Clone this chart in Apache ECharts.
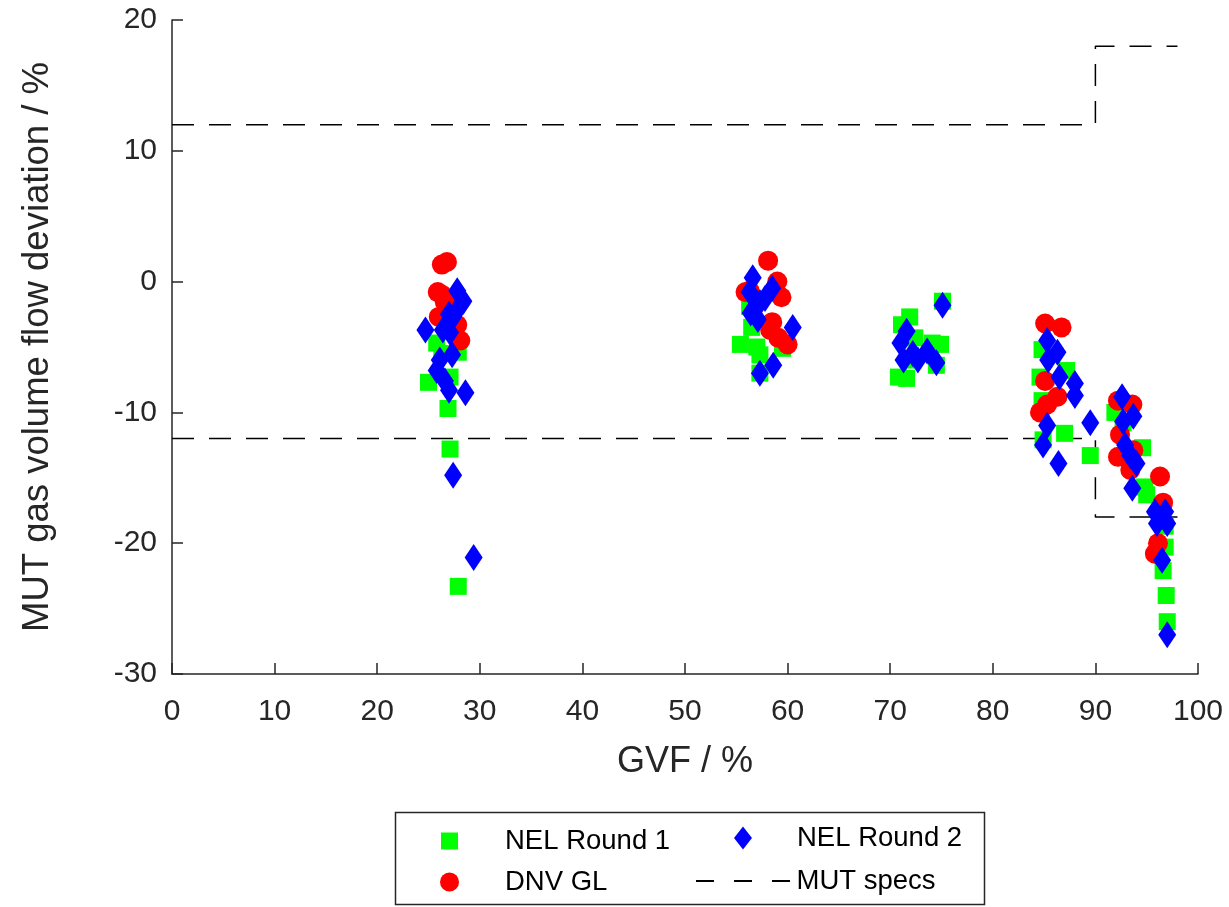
<!DOCTYPE html>
<html>
<head>
<meta charset="utf-8">
<script src="https://cdn.jsdelivr.net/npm/echarts@6/dist/echarts.min.js"></script>
<style>
  html, body { margin: 0; padding: 0; background: #fff; }
  #chart { width: 1229px; height: 907px; }
</style>
</head>
<body>
<div id="chart"></div>
<script>
// NEL Round 1 (green squares)
var nel1Gvf = [25.8, 27.9, 25.0, 26.9, 27.1, 27.9, 27.1, 26.3,
               55.4, 56.3, 56.5, 57.0, 57.3, 57.3, 59.5,
               70.8, 71.1, 71.6, 71.9, 72.2, 72.4, 74.1, 74.5, 74.9, 75.1,
               84.6, 84.8, 84.8, 84.9, 87.0, 87.2, 89.5,
               91.9, 92.7, 94.6, 94.8, 95.0, 96.8, 96.8, 96.6, 96.9, 97.0];
var nel1Dev = [-4.7, -5.4, -7.7, -9.7, -12.8, -23.3, -7.3, -5.5,
               -4.8, -1.9, -3.5, -5.0, -5.6, -7.0, -5.1,
               -7.3, -3.3, -7.4, -2.7, -6.0, -4.3, -4.7, -6.4, -4.8, -1.5,
               -7.3, -5.2, -9.1, -12.1, -11.6, -6.8, -13.3,
               -10.0, -10.8, -12.7, -15.7, -16.3, -18.7, -20.3, -22.1, -24.0, -26.0];

// DNV GL (red circles)
var dnvGvf = [26.3, 26.8, 25.9, 26.3, 26.6, 26.0, 27.8, 28.1, 27.2,
              58.1, 55.9, 59.0, 59.4, 58.5, 58.3, 59.1, 60.0, 56.3,
              85.1, 86.7, 85.1, 86.3, 85.3, 84.6,
              92.2, 93.6, 92.4, 92.2, 93.4, 96.3, 96.6, 96.1, 95.8, 93.7];
var dnvDev = [1.3, 1.5, -0.8, -1.0, -1.6, -2.7, -3.3, -4.5, -2.0,
              1.6, -0.8, 0.0, -1.2, -3.1, -3.7, -4.3, -4.8, -0.7,
              -3.2, -3.5, -7.6, -8.8, -9.4, -10.0,
              -9.1, -9.4, -11.7, -13.4, -14.4, -14.9, -16.9, -20.0, -20.8, -12.9];

// NEL Round 2 (blue diamonds)
var nel2Gvf = [24.7, 28.2, 27.8, 28.4, 27.4, 26.4, 27.1, 25.8, 26.6, 27.0, 28.6, 27.4, 29.4, 27.3, 26.1, 27.0,
               56.6, 58.5, 57.3, 56.3, 57.1, 60.5, 58.6, 57.3, 56.4, 57.8,
               75.1, 71.6, 71.0, 71.3, 72.7, 73.6, 74.5, 72.2,
               85.3, 86.3, 85.4, 86.5, 88.0, 88.0, 85.3, 84.9, 89.5, 86.4,
               92.6, 93.7, 92.7, 92.9, 94.0, 93.6, 95.8, 96.0, 97.0, 96.5, 97.0, 96.8, 93.4];
var nel2Dev = [-3.7, -1.7, -0.7, -1.5, -2.7, -3.7, -3.9, -6.8, -7.6, -8.3, -8.5, -14.8, -21.1, -5.6, -6.0, -2.5,
               0.3, -0.5, -1.6, -0.8, -2.9, -3.5, -6.4, -7.0, -2.4, -1.3,
               -1.8, -3.8, -4.7, -6.0, -6.0, -5.3, -6.2, -5.5,
               -4.5, -5.4, -6.0, -7.3, -7.8, -8.7, -11.0, -12.5, -10.8, -13.9,
               -8.8, -10.3, -10.7, -12.5, -13.9, -15.8, -17.6, -18.5, -18.5, -21.3, -27.0, -17.6, -13.3];

// MUT specs limits
var specGvf = [0, 90, 90, 98];
var specUpper = [12, 12, 18, 18];
var specLower = [-12, -12, -18, -18];

function pairs(xs, ys) {
    return xs.map(function (x, i) { return [x, ys[i]]; });
}

var axisColor = '#262626';
var font = 'Liberation Sans, Arial, Helvetica, sans-serif';
var specLine = { color: '#000', width: 1.5, type: [22, 15] };
// dashed legend icon: three short dashes
var dashIcon = 'path://M0,0H18V2H0Z M38,0H56V2H38Z M76,0H94V2H76Z';

var myChart = echarts.init(document.getElementById('chart'));
var option = {
    backgroundColor: '#fff',
    animation: false,
    textStyle: { fontFamily: font },
    grid: { left: 172, right: 31, top: 20, bottom: 233 },
    xAxis: {
        type: 'value', min: 0, max: 100, interval: 10,
        name: 'GVF / %', nameLocation: 'middle', nameGap: 70,
        nameTextStyle: { fontSize: 36, color: axisColor, fontFamily: font },
        axisLine: { onZero: false, lineStyle: { color: axisColor, width: 1.5 } },
        axisTick: { inside: true, length: 11, lineStyle: { color: axisColor, width: 1.5 } },
        axisLabel: { fontSize: 30, color: axisColor, margin: 23, fontFamily: font },
        splitLine: { show: false }
    },
    yAxis: {
        type: 'value', min: -30, max: 20, interval: 10,
        name: 'MUT gas volume flow deviation / %', nameLocation: 'middle', nameGap: 116,
        nameTextStyle: { fontSize: 36.5, color: axisColor, fontFamily: font },
        axisLine: { onZero: false, lineStyle: { color: axisColor, width: 1.5 } },
        axisTick: { inside: true, length: 11, lineStyle: { color: axisColor, width: 1.5 } },
        axisLabel: { fontSize: 30, color: axisColor, margin: 15, fontFamily: font },
        splitLine: { show: false }
    },
    legend: [
        { data: [{ name: 'NEL Round 1', icon: 'rect' }], left: 441, top: 827, padding: 0,
          itemWidth: 17, itemHeight: 17,
          textStyle: { fontSize: 27.5, color: '#000', padding: [0, 0, 0, 42], fontFamily: font } },
        { data: [{ name: 'DNV GL', icon: 'circle' }], left: 440, top: 868, padding: 0,
          itemWidth: 19, itemHeight: 19,
          textStyle: { fontSize: 27.5, color: '#000', padding: [0, 0, 0, 41], fontFamily: font } },
        { data: [{ name: 'NEL Round 2', icon: 'diamond' }], left: 734, top: 824, padding: 0,
          itemWidth: 18, itemHeight: 23,
          textStyle: { fontSize: 27.5, color: '#000', padding: [0, 0, 0, 40], fontFamily: font } },
        { data: [{ name: 'MUT specs', icon: dashIcon }], left: 696, top: 867, padding: 0,
          itemWidth: 95, itemHeight: 2,
          textStyle: { fontSize: 27.5, color: '#000', padding: [0, 0, 0, 1], fontFamily: font } }
    ],
    graphic: [{
        type: 'rect', left: 393, top: 810, silent: true,
        shape: { width: 589, height: 92 },
        style: { fill: 'none', stroke: axisColor, lineWidth: 1.5 }
    }],
    series: [
        {
            name: 'NEL Round 1', type: 'scatter', symbol: 'rect', symbolSize: 17,
            itemStyle: { color: '#00ff00', opacity: 1 },
            data: pairs(nel1Gvf, nel1Dev), z: 2
        },
        {
            name: 'DNV GL', type: 'scatter', symbol: 'circle', symbolSize: 20,
            itemStyle: { color: '#ff0000', opacity: 1 },
            data: pairs(dnvGvf, dnvDev), z: 3
        },
        {
            name: 'NEL Round 2', type: 'scatter', symbol: 'diamond', symbolSize: [18, 27],
            itemStyle: { color: '#0000ff', opacity: 1 },
            data: pairs(nel2Gvf, nel2Dev), z: 4
        },
        {
            name: 'MUT specs', type: 'line', symbol: 'none', showSymbol: false,
            lineStyle: specLine, itemStyle: { color: '#000' },
            data: pairs(specGvf, specUpper), z: 1
        },
        {
            name: 'MUT specs', type: 'line', symbol: 'none', showSymbol: false,
            lineStyle: specLine, itemStyle: { color: '#000' },
            data: pairs(specGvf, specLower), z: 1
        }
    ]
};
myChart.setOption(option);
</script>
</body>
</html>
